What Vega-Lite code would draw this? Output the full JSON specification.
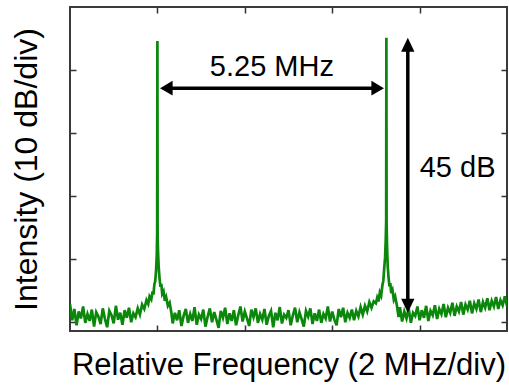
{
  "$schema": "https://vega.github.io/schema/vega-lite/v6.json",
  "width": 437,
  "height": 324,
  "autosize": "none",
  "padding": {"left": 70, "top": 7, "right": 2, "bottom": 54},
  "background": "white",
  "view": {"stroke": "#3a3a3a", "strokeWidth": 2, "fill": "white"},
  "config": {
    "view": {"stroke": "#3a3a3a", "strokeWidth": 2},
    "font": "Liberation Sans",
    "axis": {"labels": false, "domain": false, "grid": false, "tickSize": -6, "tickColor": "#333", "tickWidth": 1.5, "titleFont": "Liberation Sans", "titleFontWeight": "normal", "titleColor": "black"}
  },
  "datasets": {
    "spectrum": [
      {"f":0.00,"p":-47.2},{"f":0.05,"p":-49.8},{"f":0.10,"p":-48.0},{"f":0.15,"p":-50.6},{"f":0.20,"p":-48.4},{"f":0.25,"p":-49.5},{"f":0.30,"p":-47.6},{"f":0.35,"p":-50.2},{"f":0.40,"p":-48.8},{"f":0.45,"p":-49.9},
      {"f":0.50,"p":-48.1},{"f":0.55,"p":-50.8},{"f":0.60,"p":-48.5},{"f":0.65,"p":-49.2},{"f":0.70,"p":-50.4},{"f":0.75,"p":-47.9},{"f":0.80,"p":-49.6},{"f":0.85,"p":-50.9},{"f":0.90,"p":-48.3},{"f":0.95,"p":-49.0},
      {"f":1.00,"p":-50.3},{"f":1.05,"p":-47.5},{"f":1.10,"p":-49.7},{"f":1.15,"p":-48.6},{"f":1.20,"p":-50.5},{"f":1.25,"p":-48.2},{"f":1.30,"p":-49.4},{"f":1.35,"p":-47.8},{"f":1.40,"p":-50.1},{"f":1.45,"p":-48.7},
      {"f":1.50,"p":-49.3},{"f":1.55,"p":-47.9},{"f":1.60,"p":-48.9},{"f":1.65,"p":-47.3},{"f":1.70,"p":-48.0},{"f":1.75,"p":-46.6},{"f":1.79,"p":-47.2},
      {"f":1.82,"p":-46.0},{"f":1.86,"p":-46.5},{"f":1.89,"p":-45.2},{"f":1.91,"p":-45.7},{"f":1.93,"p":-44.1},{"f":1.95,"p":-43.6},{"f":1.97,"p":-41.8},{"f":1.985,"p":-39.5},{"f":1.995,"p":-36.0},{"f":2.00,"p":-5.4},
      {"f":2.005,"p":-36.5},{"f":2.015,"p":-39.0},{"f":2.03,"p":-41.4},{"f":2.05,"p":-43.2},{"f":2.07,"p":-44.5},{"f":2.09,"p":-44.0},{"f":2.11,"p":-45.6},{"f":2.14,"p":-45.2},{"f":2.17,"p":-46.7},{"f":2.20,"p":-46.1},
      {"f":2.24,"p":-47.5},{"f":2.28,"p":-47.0},{"f":2.32,"p":-48.6},
      {"f":2.35,"p":-50.3},{"f":2.40,"p":-48.6},{"f":2.45,"p":-49.8},{"f":2.50,"p":-48.2},{"f":2.55,"p":-50.7},{"f":2.60,"p":-49.1},{"f":2.65,"p":-48.0},{"f":2.70,"p":-50.2},
      {"f":2.75,"p":-48.8},{"f":2.80,"p":-49.9},{"f":2.85,"p":-47.7},{"f":2.90,"p":-50.5},{"f":2.95,"p":-48.9},{"f":3.00,"p":-49.6},{"f":3.05,"p":-48.1},{"f":3.10,"p":-50.8},{"f":3.15,"p":-49.2},{"f":3.20,"p":-47.9},
      {"f":3.25,"p":-50.1},{"f":3.30,"p":-48.5},{"f":3.35,"p":-49.7},{"f":3.40,"p":-51.0},{"f":3.45,"p":-48.3},{"f":3.50,"p":-49.4},{"f":3.55,"p":-47.8},{"f":3.60,"p":-50.4},{"f":3.65,"p":-48.7},{"f":3.70,"p":-49.9},
      {"f":3.75,"p":-48.2},{"f":3.80,"p":-50.6},{"f":3.85,"p":-49.0},{"f":3.90,"p":-47.6},{"f":3.95,"p":-50.0},{"f":4.00,"p":-48.4},{"f":4.05,"p":-49.5},{"f":4.10,"p":-50.7},{"f":4.15,"p":-48.1},{"f":4.20,"p":-49.3},
      {"f":4.25,"p":-47.9},{"f":4.30,"p":-50.2},{"f":4.35,"p":-48.8},{"f":4.40,"p":-49.7},{"f":4.45,"p":-48.0},{"f":4.50,"p":-50.5},{"f":4.55,"p":-49.1},{"f":4.60,"p":-48.3},{"f":4.65,"p":-50.9},{"f":4.70,"p":-48.6},
      {"f":4.75,"p":-49.8},{"f":4.80,"p":-47.7},{"f":4.85,"p":-50.3},{"f":4.90,"p":-48.9},{"f":4.95,"p":-49.4},{"f":5.00,"p":-48.2},{"f":5.05,"p":-50.6},{"f":5.10,"p":-49.0},{"f":5.15,"p":-47.8},{"f":5.20,"p":-50.1},
      {"f":5.25,"p":-48.5},{"f":5.30,"p":-49.6},{"f":5.35,"p":-50.8},{"f":5.40,"p":-48.3},{"f":5.45,"p":-49.2},{"f":5.50,"p":-47.9},{"f":5.55,"p":-50.4},{"f":5.60,"p":-48.7},{"f":5.65,"p":-49.9},{"f":5.70,"p":-48.1},
      {"f":5.75,"p":-50.2},{"f":5.80,"p":-48.8},{"f":5.85,"p":-49.5},{"f":5.90,"p":-47.6},{"f":5.95,"p":-50.0},{"f":6.00,"p":-48.4},{"f":6.05,"p":-49.7},{"f":6.10,"p":-50.6},{"f":6.15,"p":-48.0},{"f":6.20,"p":-49.3},
      {"f":6.25,"p":-47.8},{"f":6.30,"p":-50.1},{"f":6.35,"p":-48.6},{"f":6.40,"p":-49.4},{"f":6.45,"p":-48.1},{"f":6.50,"p":-49.8},{"f":6.55,"p":-48.3},{"f":6.60,"p":-49.2},{"f":6.65,"p":-47.7},{"f":6.70,"p":-48.9},
      {"f":6.75,"p":-47.5},{"f":6.80,"p":-48.4},{"f":6.85,"p":-46.9},{"f":6.90,"p":-47.8},{"f":6.95,"p":-46.8},{"f":7.00,"p":-47.1},
      {"f":7.03,"p":-46.2},{"f":7.06,"p":-46.8},{"f":7.09,"p":-45.4},{"f":7.12,"p":-45.9},{"f":7.15,"p":-44.2},{"f":7.17,"p":-43.5},{"f":7.19,"p":-41.6},{"f":7.21,"p":-39.8},{"f":7.225,"p":-37.0},{"f":7.235,"p":-34.0},{"f":7.24,"p":-4.9},
      {"f":7.245,"p":-34.5},{"f":7.255,"p":-38.0},{"f":7.27,"p":-41.2},{"f":7.29,"p":-43.0},{"f":7.31,"p":-44.4},{"f":7.33,"p":-43.9},{"f":7.35,"p":-45.5},{"f":7.38,"p":-45.0},{"f":7.41,"p":-46.5},{"f":7.44,"p":-46.0},{"f":7.48,"p":-47.4},
      {"f":7.52,"p":-49.3},{"f":7.55,"p":-47.7},{"f":7.60,"p":-50.0},{"f":7.65,"p":-48.4},{"f":7.70,"p":-49.5},{"f":7.75,"p":-47.9},{"f":7.80,"p":-50.2},{"f":7.85,"p":-48.6},{"f":7.90,"p":-49.1},{"f":7.95,"p":-47.6},
      {"f":8.00,"p":-49.8},{"f":8.05,"p":-48.2},{"f":8.10,"p":-49.4},{"f":8.15,"p":-47.5},{"f":8.20,"p":-49.9},{"f":8.25,"p":-48.3},{"f":8.30,"p":-49.0},{"f":8.35,"p":-47.4},{"f":8.40,"p":-49.6},{"f":8.45,"p":-48.0},
      {"f":8.50,"p":-48.8},{"f":8.55,"p":-47.2},{"f":8.60,"p":-49.3},{"f":8.65,"p":-47.8},{"f":8.70,"p":-48.6},{"f":8.75,"p":-47.0},{"f":8.80,"p":-49.1},{"f":8.85,"p":-47.6},{"f":8.90,"p":-48.4},{"f":8.95,"p":-46.9},
      {"f":9.00,"p":-48.9},{"f":9.05,"p":-47.3},{"f":9.10,"p":-48.1},{"f":9.15,"p":-46.7},{"f":9.20,"p":-48.7},{"f":9.25,"p":-47.1},{"f":9.30,"p":-48.0},{"f":9.35,"p":-46.5},{"f":9.40,"p":-48.5},{"f":9.45,"p":-46.9},
      {"f":9.50,"p":-47.8},{"f":9.55,"p":-46.3},{"f":9.60,"p":-48.2},{"f":9.65,"p":-46.7},{"f":9.70,"p":-47.6},{"f":9.75,"p":-46.1},{"f":9.80,"p":-48.0},{"f":9.85,"p":-46.6},{"f":9.90,"p":-47.4},{"f":9.95,"p":-46.0},{"f":10.00,"p":-47.5}
    ],
    "arrowLines": [
      {"x1": 2.22, "x2": 7.02, "y1": -12.9, "y2": -12.9},
      {"x1": 7.73, "x2": 7.73, "y1": -6.3, "y2": -47.2}
    ],
    "arrowHeads": [
      {"x": 2.06, "y": -12.9, "dir": "left"},
      {"x": 7.185, "y": -12.9, "dir": "right"},
      {"x": 7.73, "y": -4.9, "dir": "up"},
      {"x": 7.73, "y": -48.6, "dir": "down"}
    ],
    "labels": [
      {"label": "5.25 MHz", "x": 4.62, "y": -10.95},
      {"label": "45 dB", "x": 8.87, "y": -27.0}
    ]
  },
  "resolve": {"axis": {"x": "independent", "y": "independent"}},
  "layer": [
    {
      "data": {"name": "spectrum"},
      "mark": {"type": "line", "color": "#0b870b", "strokeWidth": 2.7, "clip": true},
      "encoding": {
        "x": {"field": "f", "type": "quantitative", "scale": {"domain": [0, 10], "nice": false, "zero": false},
              "axis": {"orient": "bottom", "values": [2, 4, 6, 8], "title": "Relative Frequency (2 MHz/div)", "titleFontSize": 31, "titlePadding": 19}},
        "y": {"field": "p", "type": "quantitative", "scale": {"domain": [-51.5, 0], "nice": false, "zero": false},
              "axis": {"orient": "left", "values": [-10, -20, -30, -40, -50], "title": "Intensity (10 dB/div)", "titleFontSize": 32, "titlePadding": 26}}
      }
    },
    {
      "data": {"name": "arrowLines"},
      "mark": {"type": "rule", "color": "black", "strokeWidth": 3.5},
      "encoding": {
        "x": {"field": "x1", "type": "quantitative", "scale": {"domain": [0, 10], "nice": false, "zero": false},
              "axis": {"orient": "top", "values": [2, 4, 6, 8], "title": null}},
        "x2": {"field": "x2"},
        "y": {"field": "y1", "type": "quantitative", "scale": {"domain": [-51.5, 0], "nice": false, "zero": false},
              "axis": {"orient": "right", "values": [-10, -20, -30, -40, -50], "title": null}},
        "y2": {"field": "y2"}
      }
    },
    {
      "data": {"name": "arrowHeads"},
      "mark": {"type": "point", "filled": true, "color": "black", "opacity": 1, "size": 196, "strokeWidth": 0},
      "encoding": {
        "x": {"field": "x", "type": "quantitative", "axis": null},
        "y": {"field": "y", "type": "quantitative", "axis": null},
        "shape": {"field": "dir", "type": "nominal", "legend": null,
                  "scale": {"domain": ["left", "right", "up", "down"],
                            "range": ["M0,0L1.8,-1.05L1.8,1.05Z", "M0,0L-1.8,-1.05L-1.8,1.05Z", "M0,0L-0.95,2L0.95,2Z", "M0,0L-0.95,-2L0.95,-2Z"]}}
      }
    },
    {
      "data": {"name": "labels"},
      "mark": {"type": "text", "fontSize": 29, "font": "Liberation Sans", "color": "black", "align": "center", "baseline": "alphabetic"},
      "encoding": {
        "x": {"field": "x", "type": "quantitative", "axis": null},
        "y": {"field": "y", "type": "quantitative", "axis": null},
        "text": {"field": "label"}
      }
    }
  ]
}
